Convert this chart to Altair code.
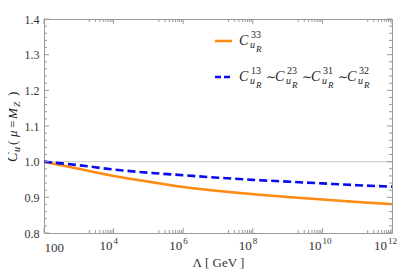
import altair as alt
import pandas as pd

# ---- data ----
lam_exp = [2, 3, 4, 5, 6, 7, 8, 9, 10, 11, 12]
c33 = [1.000, 0.980, 0.960, 0.944, 0.929, 0.918, 0.909, 0.901, 0.894, 0.887, 0.881]
c13 = [1.000, 0.990, 0.978, 0.969, 0.962, 0.955, 0.949, 0.944, 0.939, 0.934, 0.930]
series_names = ["C33", "C13"]
x_major = [1e2, 1e4, 1e6, 1e8, 1e10, 1e12]
x_label_base = ["", "10", "10", "10", "10", "10"]
x_label_sup = ["", "4", "6", "8", "10", "12"]
x_minor = [k * 10.0 ** n for n in [3, 5, 7, 9, 11] for k in range(2, 10)]
y_major = [0.8, 0.9, 1.0, 1.1, 1.2, 1.3, 1.4]
y_minor = [round(0.8 + 0.02 * i, 2) for i in range(31) if i % 5 != 0]

W, H = 348, 214
FONT = "'Liberation Serif', 'DejaVu Serif', serif"
ORANGE = "#FF8A14"
BLUE = "#0A0AF0"
FRAME = "#9A9A9A"

rows = []
for e, a, b in zip(lam_exp, c33, c13):
    rows.append({"lam": 10.0 ** e, "val": a, "s": series_names[0]})
    rows.append({"lam": 10.0 ** e, "val": b, "s": series_names[1]})
df = pd.DataFrame(rows)

xscale = alt.Scale(type="log", domain=[1e2, 1e12], nice=False)
yscale = alt.Scale(domain=[0.8, 1.4], nice=False, zero=False)

label_expr = "datum.value == 100 ? '100' : ''"

x_axis = alt.Axis(values=x_major, labelExpr=label_expr, ticks=False,
                  domain=False, grid=False, labelFont=FONT, labelFontSize=13,
                  labelColor="#333", labelPadding=8, titleFont=FONT,
                  titleFontSize=13, titleFontWeight="normal", titleColor="#333",
                  titlePadding=2)
y_axis = alt.Axis(values=y_major, format=".1f", ticks=False, domain=False,
                  grid=False, labelFont=FONT, labelFontSize=12,
                  labelColor="#333", labelPadding=5)
XT = "Λ [ GeV ]"

base = alt.Chart(df)

ref_line = alt.Chart(pd.DataFrame({"v": [1.0]})).mark_rule(
    color="#C8C8C8", strokeWidth=1
).encode(y=alt.Y("v:Q", scale=yscale, axis=y_axis, title=None))

lines = base.mark_line(strokeWidth=2.6, interpolate="monotone").encode(
    x=alt.X("lam:Q", scale=xscale, title=XT, axis=x_axis),
    y=alt.Y("val:Q", scale=yscale, title=None, axis=y_axis),
    color=alt.Color("s:N", scale=alt.Scale(domain=series_names, range=[ORANGE, BLUE]),
                    legend=None),
    strokeDash=alt.StrokeDash("s:N", scale=alt.Scale(domain=series_names,
                                                      range=[[1, 0], [8, 4]]),
                              legend=None),
)

def xticks(vals, length):
    d = alt.Chart(pd.DataFrame({"v": vals}))
    xenc = alt.X("v:Q", scale=xscale, axis=x_axis, title=XT)
    bot = d.mark_rule(color=FRAME, strokeWidth=1).encode(
        x=xenc, y=alt.value(H), y2=alt.value(H - length))
    top = d.mark_rule(color=FRAME, strokeWidth=1).encode(
        x=xenc, y=alt.value(0), y2=alt.value(length))
    return [bot, top]

def yticks(vals, length):
    d = alt.Chart(pd.DataFrame({"v": vals}))
    yenc = alt.Y("v:Q", scale=yscale, axis=y_axis, title=None)
    left = d.mark_rule(color=FRAME, strokeWidth=1).encode(
        y=yenc, x=alt.value(0), x2=alt.value(length))
    right = d.mark_rule(color=FRAME, strokeWidth=1).encode(
        y=yenc, x=alt.value(W), x2=alt.value(W - length))
    return [left, right]

ticks = xticks(x_major, 5) + xticks(x_minor, 3) + yticks(y_major, 5) + yticks(y_minor, 3)

# power-of-ten tick labels: "10" ending at the tick, exponent raised to its right
lab_df = pd.DataFrame({"v": x_major, "b": x_label_base, "p": x_label_sup})
xenc_lab = alt.X("v:Q", scale=xscale, axis=x_axis, title=XT)

def power_labels(frame, shift):
    c = alt.Chart(frame)
    b = c.mark_text(font=FONT, fontSize=13, color="#333", align="right",
                    baseline="alphabetic", dx=-1 + shift
                    ).encode(x=xenc_lab, y=alt.value(H + 17), text="b:N")
    s = c.mark_text(font=FONT, fontSize=9, color="#333", align="left",
                    baseline="alphabetic", dx=shift
                    ).encode(x=xenc_lab, y=alt.value(H + 11), text="p:N")
    return [b, s]

# the last label is nudged left so its exponent stays inside the page
labels = power_labels(lab_df.iloc[:-1], 0) + power_labels(lab_df.iloc[-1:], -4)

def txt(text, x, y, size, italic=True, angle=0):
    kw = dict(text=text, font=FONT, fontSize=size, color="#222",
              align="left", baseline="alphabetic")
    if italic:
        kw["fontStyle"] = "italic"
    if angle:
        kw["angle"] = angle
    return alt.Chart(pd.DataFrame({"a": [0]})).mark_text(**kw).encode(
        x=alt.value(x), y=alt.value(y))

annot = []
# y title (rotated), pieces from bottom to top
ox, oy = 44, 19
ybase = 17 - ox
annot += [
    txt("C", ybase, 162 - oy, 14, True, 270),
    txt("u", ybase + 3, 152 - oy, 10, True, 270),
    txt("(", ybase, 145 - oy, 13, False, 270),
    txt("μ", ybase, 137 - oy, 13, True, 270),
    txt("=", ybase, 128 - oy, 13, False, 270),
    txt("M", ybase, 119 - oy, 13, True, 270),
    txt("Z", ybase + 3, 107 - oy, 9, True, 270),
    txt(")", ybase, 96 - oy, 13, False, 270),
]

# legend
leg_line1 = alt.Chart(pd.DataFrame({"a": [0]})).mark_rule(
    color=ORANGE, strokeWidth=2.6).encode(
    x=alt.value(215 - ox), x2=alt.value(232 - ox), y=alt.value(41 - oy))
leg_line2 = alt.Chart(pd.DataFrame({"a": [0]})).mark_rule(
    color=BLUE, strokeWidth=2.6, strokeDash=[6, 3]).encode(
    x=alt.value(215 - ox), x2=alt.value(232 - ox), y=alt.value(77 - oy))

def cterm(x0, ybl, sup):
    return [
        txt("C", x0 - ox, ybl - oy, 14),
        txt(sup, x0 + 12 - ox, ybl - 7 - oy, 10, False),
        txt("u", x0 + 11 - ox, ybl + 3 - oy, 10),
        txt("R", x0 + 17 - ox, ybl + 7 - oy, 9),
    ]

annot += cterm(239, 45, "33")
for i, (cx, sup) in enumerate([(239, "13"), (275, "23"), (311, "31"), (347, "32")]):
    annot += cterm(cx, 81, sup)
    if i > 0:
        annot.append(txt("∼", cx - 9 - ox, 81 - oy, 12, False))

chart = alt.layer(ref_line, lines, *ticks, *labels,
                  leg_line1, leg_line2, *annot).properties(
    width=W, height=H,
    padding={"left": 36, "top": 11, "right": 7, "bottom": 39},
    autosize=alt.AutoSizeParams(type="none"),
).configure_view(stroke=FRAME, strokeWidth=1)

chart.save("out.html", embed_options={"renderer": "svg", "actions": False})
